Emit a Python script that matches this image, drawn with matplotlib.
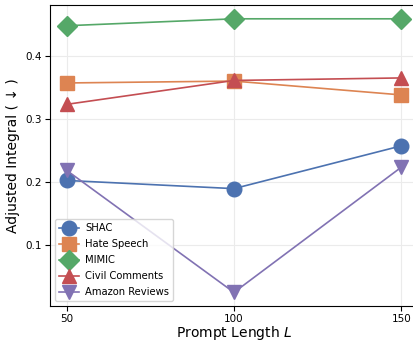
import matplotlib
matplotlib.use("Agg")
import matplotlib.pyplot as plt

prompt_lengths = [50, 100, 150]
series_names = ["SHAC", "Hate Speech", "MIMIC", "Civil Comments", "Amazon Reviews"]
shac = [0.202, 0.189, 0.257]
hate_speech = [0.357, 0.360, 0.338]
mimic = [0.448, 0.459, 0.459]
civil_comments = [0.323, 0.361, 0.365]
amazon_reviews = [0.218, 0.024, 0.223]

values = [shac, hate_speech, mimic, civil_comments, amazon_reviews]
colors = ["#4c72b0", "#dd8452", "#55a868", "#c44e52", "#8172b3"]
markers = ["o", "s", "D", "^", "v"]

fig = plt.figure(figsize=(4.13, 3.42), dpi=100)
ax = fig.add_axes([0.121, 0.105, 0.891, 0.880])

for name, vals, c, m in zip(series_names, values, colors, markers):
    ax.plot(prompt_lengths, vals, marker=m, color=c, label=name,
            markersize=10.5, linewidth=1.2)

ax.set_xticks(prompt_lengths)
ax.set_yticks([0.1, 0.2, 0.3, 0.4])
ax.tick_params(labelsize=7.5, pad=2.5)
ax.grid(True, color="#ebebeb", linewidth=0.8)
ax.set_axisbelow(True)
ax.set_xlabel("Prompt Length $L$", fontsize=10, labelpad=0)
ax.set_ylabel("Adjusted Integral ( ↓ )", fontsize=10, labelpad=4)
ax.legend(loc="lower left", fontsize=7.2, handlelength=2.0, borderpad=0.4,
          labelspacing=0.6, handletextpad=0.6)

fig.savefig("out.png", dpi=100)
